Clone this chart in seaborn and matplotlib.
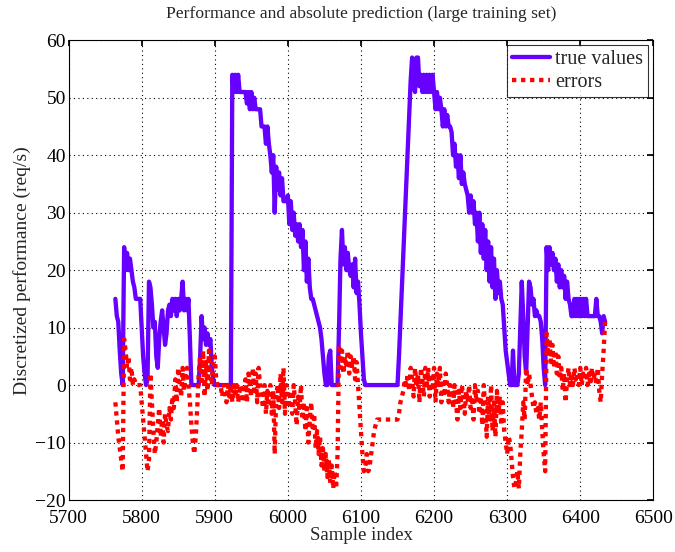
import numpy as np
import pandas as pd
import seaborn as sns
import matplotlib
matplotlib.use('Agg')
import matplotlib.pyplot as plt

# sample indices (every 2nd sample)
sample = np.arange(5764, 6436, 2)

# true performance values, 10 samples per row
true_values = [
    15, 12, 11, 6, 2, 0, 24, 20, 23, 20,
    22, 20, 18, 17, 15, 15, 15, 15, 10, 5,
    2, 0, 1, 18, 17, 14, 10, 11, 5, 3,
    8, 11, 13, 10, 7, 9, 13, 14, 12, 15,
    13, 15, 12, 15, 13, 15, 18, 13, 15, 13,
    15, 8, 0, 0, 0, 0, 0, 0, 5, 12,
    8, 10, 7, 9, 7, 8, 3, 1, 0, 0,
    0, 0, 0, 0, 0, 0, 0, 0, 0, 0,
    54, 51, 54, 51, 54, 51, 51, 51, 51, 51,
    49, 51, 48, 51, 48, 50, 48, 48, 48, 48,
    45, 45, 45, 42, 45, 42, 40, 37, 40, 30,
    38, 34, 37, 33, 36, 32, 32, 32, 33, 28,
    32, 27, 30, 26, 28, 25, 28, 24, 27, 20,
    25, 18, 22, 17, 15, 15, 14, 13, 12, 11,
    10, 8, 5, 2, 0, 0, 5, 6, 0, 0,
    0, 0, 0, 10, 22, 27, 21, 24, 20, 23,
    20, 19, 21, 17, 22, 16, 18, 14, 9, 5,
    1, 0, 0, 0, 0, 0, 0, 0, 0, 0,
    0, 0, 0, 0, 0, 0, 0, 0, 0, 0,
    0, 0, 0, 0, 5, 11, 17, 23, 29, 35,
    41, 47, 53, 57, 52, 51, 57, 57, 52, 54,
    51, 54, 51, 54, 51, 54, 51, 54, 51, 48,
    51, 48, 50, 48, 45, 48, 45, 47, 45, 45,
    44, 40, 42, 38, 40, 36, 40, 35, 37, 35,
    34, 33, 30, 33, 30, 32, 28, 30, 25, 30,
    23, 28, 22, 27, 20, 25, 18, 24, 17, 22,
    15, 20, 16, 18, 15, 14, 10, 6, 4, 2,
    0, 0, 6, 0, 0, 0, 2, 10, 18, 12,
    5, 2, 10, 18, 17, 14, 15, 12, 13, 12,
    12, 11, 8, 3, 0, 24, 20, 24, 21, 23,
    20, 22, 18, 21, 17, 20, 17, 19, 15, 18,
    15, 14, 12, 12, 15, 12, 15, 12, 15, 12,
    15, 12, 15, 12, 12, 12, 12, 12, 12, 15,
    12, 12, 11, 9, 12, 11,
]

# prediction errors
errors = [
    -3, -6, -9, -11, -13, -15, 8, 6, 3, 5,
    1, 3, 0, 1, 0, 0, 0, 0, -3, -6,
    -9, -12, -15, -13, 2, -3, -8, -12, -10, -7,
    -4, -9, -6, -10, -5, -7, -8, -4, -6, -2,
    -4, 1, -3, 3, 0, -2, 3, -1, 2, 3,
    0, -3, -7, -10, -12, -9, -4, 2, 5, 0,
    6, -2, 4, -1, 6, 2, 0, 4, 5, 1,
    0, 0, 0, -2, 0, -1, -3, 0, -2, 0,
    -3, 0, -2, 0, -3, -1, 0, -3, -1, 1,
    -3, 2, 0, -2, 3, -1, 2, -3, 3, 0,
    -2, -4, 0, -5, -1, -3, 0, -5, -1, -12,
    -2, 0, -4, 2, -3, 3, -5, 0, -2, -4,
    -1, -5, 0, -3, -7, -2, -4, 0, -6, -3,
    -8, -4, -10, -6, -3, -8, -5, -11, -8, -12,
    -9, -14, -11, -15, -12, -16, -13, -17, -14, -18,
    -15, -18, -12, 7, 3, 6, 2, 5, 3, 6,
    2, 5, 3, 5, 1, 4, 0, -4, -8, -12,
    -15, -14, -12, -15, -14, -12, -10, -8, -7, -6,
    -6, -6, -6, -6, -6, -6, -6, -6, -6, -6,
    -6, -6, -6, -6, -5, -3, -2, -1, 1, 0,
    2, -1, 3, 1, -2, 3, 0, 2, -3, 3,
    1, -2, 3, 0, 3, -2, 2, -1, 3, -3,
    2, 0, 3, -3, 1, -2, 2, 0, -3, 0,
    -1, -4, 0, -3, -6, -1, -4, 0, -2, -5,
    -1, -3, 0, -4, -2, -6, 0, -3, -1, -5,
    -2, -7, 0, -4, -9, -2, -6, 0, -8, -3,
    -9, -1, -5, -2, -7, -3, -8, -10, -12, -9,
    -10, -13, -16, -18, -17, -15, -18, -12, -8, -3,
    -6, 3, 0, 2, 0, -2, -4, -3, -5, -4,
    -6, -3, -8, -12, -15, 9, 5, 8, 4, 7,
    3, 6, 2, 5, 1, 3, -1, 2, -3, 1,
    3, 0, 2, 0, 3, 1, 2, 0, 3, 0,
    2, 1, 3, 0, 2, 0, 3, 1, 2, 0,
    3, -1, -3, 2, 6, 11,
]

series_names = ['true values', 'errors']

df = pd.concat([
    pd.DataFrame({'sample': sample, 'value': true_values, 'series': series_names[0]}),
    pd.DataFrame({'sample': sample, 'value': errors, 'series': series_names[1]}),
])

sns.set_theme(style='white')
plt.rcParams['font.family'] = ['Liberation Serif', 'DejaVu Serif']

fig = plt.figure(figsize=(6.75, 5.52), dpi=100)
ax = fig.add_axes([0.1016, 0.0942, 0.8663, 0.8328])

sns.lineplot(data=df, x='sample', y='value', hue='series', style='series',
             palette={'true values': '#6600ff', 'errors': '#ff0000'},
             dashes={'true values': '', 'errors': (1, 1.1)},
             linewidth=3.1, estimator=None, sort=False, ax=ax)

ax.set_xlim(5700, 6500)
ax.set_ylim(-20, 60)
ax.set_xticks(np.arange(5700, 6501, 100))
ax.set_yticks(np.arange(-20, 61, 10))
ax.grid(True, color='black', linestyle=(0, (1, 3)), linewidth=0.8)
for s in ax.spines.values():
    s.set_color('black')
    s.set_linewidth(0.8)
ax.tick_params(direction='in', length=4, color='black', labelsize=14,
               top=True, right=True, labelcolor='black')
ax.tick_params(axis='x', pad=7)
ax.tick_params(axis='y', pad=2)

ax.set_title('Performance and absolute prediction (large training set)', fontsize=12.6, pad=16)
ax.set_xlabel('Sample index', fontsize=13.5, labelpad=0)
ax.set_ylabel('Discretized performance (req/s)', fontsize=14, labelpad=3)

leg = ax.legend(loc='upper right', fontsize=14.5, frameon=True, fancybox=False,
                handlelength=1.9, borderaxespad=0.25, borderpad=0.25, labelspacing=0.15,
                handletextpad=0.25)
leg.get_frame().set_edgecolor('black')
leg.get_frame().set_linewidth(0.8)

fig.savefig('out.png', dpi=100)
